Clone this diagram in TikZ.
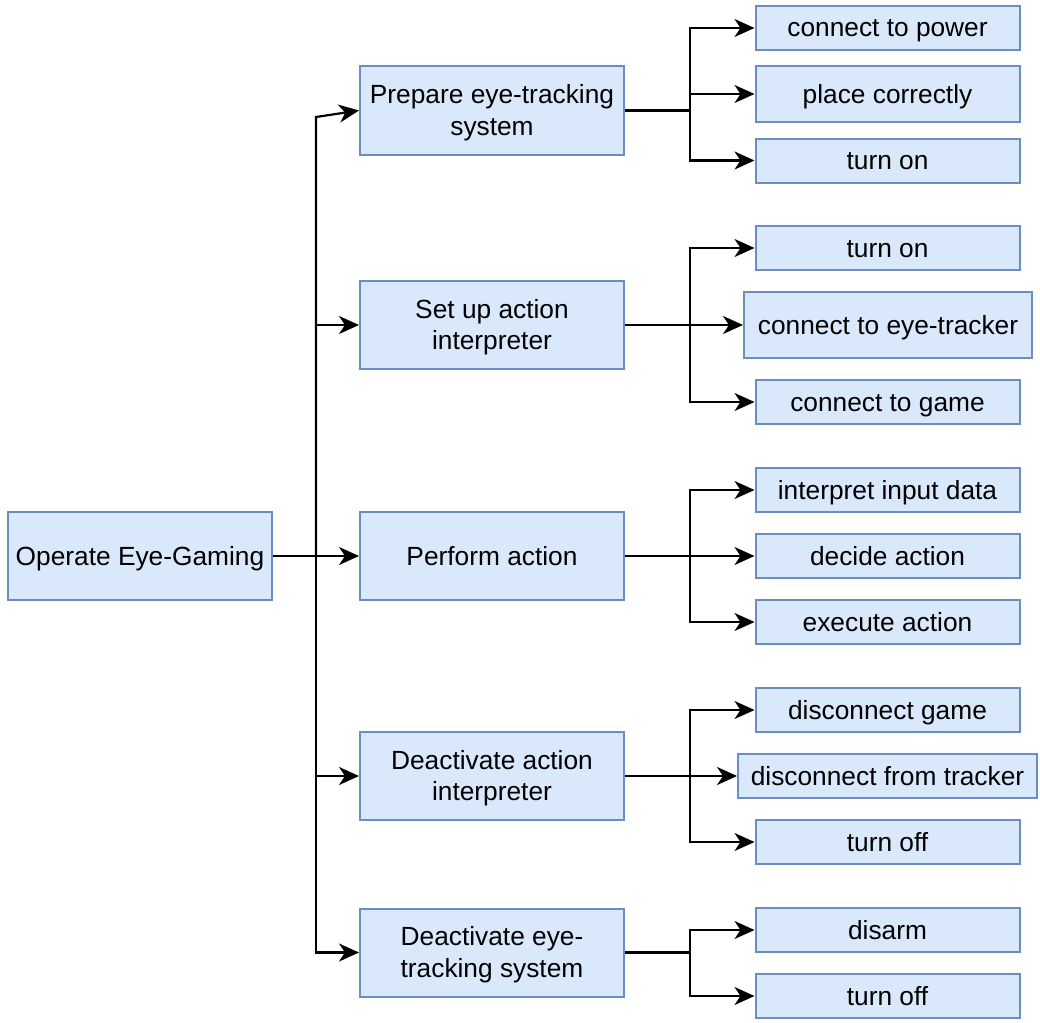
\documentclass[tikz,border=0pt]{standalone}
\usepackage{fontspec}
\setmainfont{Liberation Sans}
\usetikzlibrary{arrows.meta}
\definecolor{boxfill}{HTML}{DAE8FC}
\definecolor{boxline}{HTML}{6C8EBF}
\begin{document}
\begin{tikzpicture}[x=1pt,y=-1pt,font=\fontsize{26.3}{31.5}\selectfont]
  \tikzstyle{box}=[draw=boxline,fill=boxfill,line width=2pt,inner sep=0pt,text height=20pt,text depth=2pt]
  \tikzstyle{task node}=[box,minimum width=264,minimum height=88]
  \tikzstyle{two lines}=[text height=51.5pt,text depth=2pt]
  \tikzstyle{leaf node}=[box,minimum width=264,minimum height=44]
  \tikzstyle{link}=[line width=2.2pt]
  \tikzstyle{arrow}=[link,-{Stealth[length=20pt,width=18pt,inset=6pt]}]

  \useasboundingbox (0,0) rectangle (1040,1022);

  % root and tasks
  \node(root)[task node] at (140,556) {Operate Eye-Gaming};
  \node(prep)[task node,two lines] at (492,110.5) {
      \begin{tabular}[b]{c}
           Prepare eye-tracking \\
           system \\
      \end{tabular}
  };
  \node(setup)[task node,two lines] at (492,325) {
      \begin{tabular}[b]{c}
           Set up action \\
           interpreter \\
      \end{tabular}
  };
  \node(perform)[task node] at (492,556) {Perform action};
  \node(deact)[task node,two lines] at (492,776) {
      \begin{tabular}[b]{c}
           Deactivate action \\
           interpreter \\
      \end{tabular}
  };
  \node(deeye)[task node,two lines] at (492,952.5) {
      \begin{tabular}[b]{c}
           Deactivate eye- \\
           tracking system \\
      \end{tabular}
  };

  % sub steps
  \node(p1)[leaf node] at (887.5,28) {connect to power};
  \node(p2)[leaf node,minimum height=56] at (887.5,94) {place correctly};
  \node(p3)[leaf node] at (887.5,160.5) {turn on};

  \node(s1)[leaf node] at (887.5,248) {turn on};
  \node(s2)[leaf node,minimum width=288,minimum height=66] at (888,325) {connect to eye-tracker};
  \node(s3)[leaf node] at (887.5,402) {connect to game};

  \node(e1)[leaf node] at (887.5,490) {interpret input data};
  \node(e2)[leaf node] at (887.5,556) {decide action};
  \node(e3)[leaf node] at (887.5,622) {execute action};

  \node(d1)[leaf node] at (887.5,710) {disconnect game};
  \node(d2)[leaf node,minimum width=299] at (887.5,776) {disconnect from tracker};
  \node(d3)[leaf node] at (887.5,842) {turn off};

  \node(t1)[leaf node] at (887.5,930) {disarm};
  \node(t2)[leaf node] at (887.5,996) {turn off};

  % root to tasks
  \coordinate(rj) at (316,556);
  \coordinate(rtop) at (316,117);
  \draw[link] (root.east) -- (rj);
  \draw[arrow] (rj) -- (perform.west);
  \draw[arrow] (rj) -- (rtop) -- (prep.west);
  \draw[arrow] (rj) |- (setup.west);
  \draw[arrow] (rj) |- (deact.west);
  \draw[arrow] (rj) |- (deeye.west);

  % tasks to sub steps
  \coordinate(pj) at (690,110.5);
  \draw[link] (prep.east) -- (pj);
  \draw[arrow] (pj) |- (p1.west);
  \draw[arrow] (pj) |- (p2.west);
  \draw[arrow] (pj) |- (p3.west);

  \coordinate(sj) at (690,325);
  \draw[arrow] (setup.east) -- (s2.west);
  \draw[arrow] (sj) |- (s1.west);
  \draw[arrow] (sj) |- (s3.west);

  \coordinate(ej) at (690,556);
  \draw[arrow] (perform.east) -- (e2.west);
  \draw[arrow] (ej) |- (e1.west);
  \draw[arrow] (ej) |- (e3.west);

  \coordinate(dj) at (690,776);
  \draw[arrow] (deact.east) -- (d2.west);
  \draw[arrow] (dj) |- (d1.west);
  \draw[arrow] (dj) |- (d3.west);

  \coordinate(tj) at (690,952.5);
  \draw[link] (deeye.east) -- (tj);
  \draw[arrow] (tj) |- (t1.west);
  \draw[arrow] (tj) |- (t2.west);

\end{tikzpicture}
\end{document}
